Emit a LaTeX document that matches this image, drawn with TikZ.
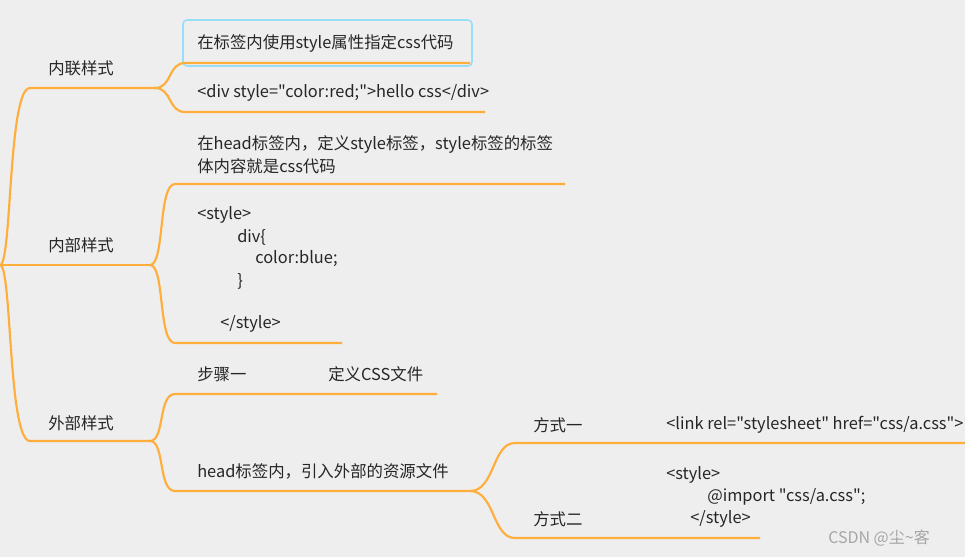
\documentclass[tikz,border=0pt]{standalone}
\usepackage{fontspec}
\setmainfont{Noto Sans CJK SC}[Ligatures=TeXOff]
\begin{document}
\begin{tikzpicture}[x=0.75pt,y=-0.75pt,
  t/.style={anchor=west,inner sep=0pt,font=\fontsize{12.3pt}{14pt}\selectfont,text=black!85},
  wm/.style={anchor=west,inner sep=0pt,font=\fontsize{12pt}{14pt}\selectfont,text=black!35}]
\definecolor{bg}{HTML}{EEEEEE}
\definecolor{ln}{HTML}{FFAE3B}
\tikzset{br/.style={draw=ln,line width=1.6pt}}
\fill[bg] (0,0) rectangle (965,557);
\useasboundingbox (0,0) rectangle (965,557);
% coordinates
\coordinate (r) at (0,265);
\coordinate (a0) at (30,88); \coordinate (a1) at (155,88);
\coordinate (b0) at (0,265); \coordinate (b1) at (150,265);
\coordinate (c0) at (30,441); \coordinate (c1) at (150,441);
% root curves
\draw[br] (r) .. controls (12,265) and (8,88) .. (a0) -- (a1);
\draw[br] (r) .. controls (12,265) and (8,441) .. (c0) -- (c1);
\draw[br] (b0) -- (b1);
% branch 1
\node[t] (n1) at (48,68) {内联样式};
\draw[rounded corners=3pt,draw=cyan!40,line width=1.2pt] (183,20) rectangle (472,66);
\node[t] (a1t) at (197,43) {在标签内使用style属性指定css代码};
\coordinate (a1s) at (185,63); \coordinate (a1e) at (470,63);
\draw[br] (a1) .. controls (172,88) and (168,63) .. (a1s) -- (a1e);
\node[t] (a2t) at (197,93) {<div style="color:red;">hello css</div>};
\coordinate (a2s) at (185,112); \coordinate (a2e) at (485,112);
\draw[br] (a1) .. controls (172,88) and (168,112) .. (a2s) -- (a2e);
% branch 2
\node[t] (n2) at (48,245) {内部样式};
\node[t] (b1t) at (197,144) {在head标签内，定义style标签，style标签的标签};
\node[t] (b1u) at (197,166) {体内容就是css代码};
\coordinate (b1s) at (175,184); \coordinate (b1e) at (565,184);
\draw[br] (b1) .. controls (165,265) and (158,184) .. (b1s) -- (b1e);
\node[t] (c1a) at (197,215) {<style>};
\node[t] (c1b) at (237,237) {div\{};
\node[t] (c1c) at (255,259) {color:blue;};
\node[t] (c1d) at (237,281) {\}};
\node[t] (c1e) at (220,324) {</style>};
\coordinate (b2s) at (175,343); \coordinate (b2e) at (342,343);
\draw[br] (b1) .. controls (165,265) and (158,343) .. (b2s) -- (b2e);
% branch 3
\node[t] (n3) at (48,423) {外部样式};
\node[t] (s1) at (197,374) {步骤一};
\node[t] (s1b) at (328,374) {定义CSS文件};
\coordinate (c1s) at (175,394); \coordinate (c1e) at (437,394);
\draw[br] (c1) .. controls (165,441) and (158,394) .. (c1s) -- (c1e);
\node[t] (s2) at (197,471) {head标签内，引入外部的资源文件};
\coordinate (c2s) at (175,491); \coordinate (c2e) at (470,491);
\draw[br] (c1) .. controls (165,441) and (158,491) .. (c2s) -- (c2e);
% sub branch
\node[t] (m1) at (533,425) {方式一};
\node[t] (m1t) at (666,425) {<link rel="stylesheet" href="css/a.css">};
\coordinate (d1s) at (515,443); \coordinate (d1e) at (965,443);
\draw[br] (c2e) .. controls (495,491) and (492,443) .. (d1s) -- (d1e);
\node[t] (m2) at (533,519) {方式二};
\node[t] (m2a) at (666,475) {<style>};
\node[t] (m2b) at (707,497) {@import "css/a.css";};
\node[t] (m2c) at (690,519) {</style>};
\coordinate (d2s) at (515,538); \coordinate (d2e) at (760,538);
\draw[br] (c2e) .. controls (495,491) and (492,538) .. (d2s) -- (d2e);
\node[wm] (w) at (828,538) {CSDN @尘\textasciitilde 客};
\end{tikzpicture}
\end{document}
